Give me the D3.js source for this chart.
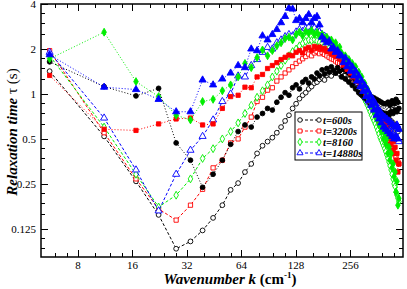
<!DOCTYPE html>
<html>
<head>
    <title>relaxation time</title>
    <script src="https://d3js.org/d3.v7.min.js"></script>
    <style>
        body { margin: 0; background: #fff; }
        text { font-family: "Liberation Serif", "Times New Roman", serif; }
        .tick-label { font-size: 11px; }
        .axis-title { font-size: 15px; font-weight: bold; font-style: italic; }
        .legend-text { font-size: 10.5px; font-weight: bold; font-style: italic; }
    </style>
</head>
<body>
<script>

    // wavenumbers (cm^-1)
    var wavenumbers = [5.58, 11.16, 16.74, 22.32, 27.9, 33.48, 39.06, 44.64, 50.22, 55.8,
        61.38, 66.96, 72.54, 78.12, 83.7, 89.28, 94.86, 100.44, 106.02, 111.6,
        117.18, 122.76, 128.34, 133.92, 139.5, 145.08, 150.66, 156.24, 161.82, 167.4,
        172.98, 178.56, 184.14, 189.72, 195.3, 200.88, 206.46, 212.04, 217.62, 223.2,
        228.78, 234.36, 239.94, 245.52, 251.1, 256.68, 262.26, 267.84, 273.42, 279,
        284.58, 290.16, 295.74, 301.32, 306.9, 312.48, 318.06, 323.64, 329.22, 334.8,
        340.38, 345.96, 351.54, 357.12, 362.7, 368.28, 373.86, 379.44, 385.02, 390.6,
        396.18, 401.76, 407.34, 412.92, 418.5, 424.08, 429.66, 435.24, 440.82, 446.4,
        451.98, 457.56, 463.14, 468.72, 474.3];

    // relaxation times (s), open symbols / dashed lines
    var tau600Open = [1.42, 0.52, 0.26, 0.155, 0.092, 0.103, 0.122, 0.148, 0.18, 0.228,
        0.253, 0.30, 0.34, 0.40, 0.45, 0.48, 0.51, 0.55, 0.60, 0.66,
        0.72, 0.80, 0.86, 0.93, 0.98, 1.02, 1.08, 1.12, 1.18, 1.20,
        1.25, 1.28, 1.24, 1.33, 1.36, 1.32, 1.40, 1.38, 1.42, 1.36,
        1.40, 1.30, 1.33, 1.25, 1.28, 1.20, 1.22, 1.15, 1.12, 1.08,
        1.05, 1.00, 1.02, 0.96, 0.94, 0.92, 0.88, 0.90, 0.85, 0.84,
        0.82, 0.80, 0.82, 0.78, 0.76, 0.78, 0.74, 0.72, 0.75, 0.70,
        0.72, 0.68, 0.70, 0.66, 0.68, 0.64, 0.66, 0.62, 0.64, 0.60,
        0.62, 0.58, 0.60, 0.56, 0.58];
    var tau3200Open = [1.95, 0.55, 0.27, 0.17, 0.143, 0.18, 0.23, 0.32, 0.36, 0.47,
        0.50, 0.60, 0.70, 0.89, 0.95, 1.06, 1.10, 1.22, 1.30, 1.38,
        1.45, 1.52, 1.60, 1.66, 1.72, 1.78, 1.85, 1.80, 1.88, 1.92,
        1.86, 1.90, 1.84, 1.80, 1.76, 1.72, 1.70, 1.66, 1.62, 1.60,
        1.56, 1.52, 1.48, 1.44, 1.40, 1.35, 1.30, 1.26, 1.22, 1.18,
        1.14, 1.10, 1.06, 1.02, 0.98, 0.95, 0.92, 0.88, 0.85, 0.82,
        0.79, 0.76, 0.73, 0.70, 0.68, 0.66, 0.64, 0.62, 0.60, 0.58,
        0.56, 0.54, 0.52, 0.50, 0.48, 0.46, 0.44, 0.43, 0.42, 0.40,
        0.39, 0.38, 0.36, 0.35, 0.34];
    var tau8160Open = [1.80, 0.60, 0.29, 0.175, 0.21, 0.27, 0.37, 0.43, 0.50, 0.56,
        0.64, 0.74, 0.84, 0.95, 1.05, 1.15, 1.30, 1.42, 1.55, 1.68,
        1.80, 1.92, 2.00, 2.10, 2.18, 2.25, 2.30, 2.28, 2.32, 2.26,
        2.22, 2.18, 2.12, 2.08, 2.02, 1.98, 1.94, 1.88, 1.84, 1.80,
        1.75, 1.68, 1.62, 1.55, 1.48, 1.42, 1.36, 1.30, 1.24, 1.18,
        1.12, 1.07, 1.02, 0.97, 0.92, 0.88, 0.84, 0.80, 0.76, 0.72,
        0.69, 0.66, 0.63, 0.60, 0.57, 0.54, 0.51, 0.49, 0.47, 0.45,
        0.43, 0.41, 0.39, 0.37, 0.35, 0.33, 0.31, 0.29, 0.27, 0.25,
        0.24, 0.22, 0.21, 0.20, 0.19];
    var tau14880Open = [1.90, 0.69, 0.31, 0.165, 0.29, 0.42, 0.52, 0.67, 0.89, 1.00,
        1.32, 1.30, 1.55, 1.70, 1.90, 2.05, 2.00, 2.20, 2.30, 2.42,
        2.50, 2.45, 2.60, 2.70, 2.62, 2.75, 2.80, 2.70, 2.76, 2.65,
        2.60, 2.50, 2.44, 2.36, 2.28, 2.20, 2.12, 2.04, 1.96, 1.88,
        1.80, 1.74, 1.66, 1.60, 1.52, 1.46, 1.40, 1.34, 1.28, 1.22,
        1.17, 1.12, 1.08, 1.04, 1.00, 0.96, 0.93, 0.90, 0.87, 0.84,
        0.82, 0.80, 0.77, 0.75, 0.73, 0.71, 0.69, 0.67, 0.65, 0.64,
        0.62, 0.61, 0.60, 0.58, 0.57, 0.56, 0.55, 0.54, 0.53, 0.52,
        0.51, 0.50, 0.50, 0.49, 0.48];

    // relaxation times (s), filled symbols / dotted lines
    var tau600Fill = [1.64, 1.12, 0.97, 1.09, 0.47, 0.36, 0.237, 0.29, 0.36, 0.46,
        0.56, 0.62, 0.60, 0.70, 0.74, 0.80, 0.78, 0.88, 0.95, 1.02,
        0.98, 1.10, 1.15, 1.08, 1.20, 1.25, 1.18, 1.30, 1.26, 1.38,
        1.32, 1.45, 1.36, 1.48, 1.40, 1.52, 1.44, 1.38, 1.50, 1.42,
        1.30, 1.46, 1.26, 1.40, 1.20, 1.34, 1.14, 1.28, 1.08, 1.22,
        1.02, 1.14, 0.98, 1.08, 0.94, 1.04, 0.90, 1.00, 0.86, 0.96,
        0.84, 0.94, 0.80, 0.92, 0.78, 0.90, 0.76, 0.88, 0.74, 0.86,
        0.72, 0.86, 0.74, 0.88, 0.72, 0.84, 0.76, 0.90, 0.74, 0.86,
        0.78, 0.92, 0.76, 0.88, 0.80];
    var tau3200Fill = [1.33, 0.58, 0.57, 0.63, 0.68, 0.69, 0.62, 0.63, 0.80, 0.96,
        0.98, 1.11, 1.10, 1.30, 1.35, 1.48, 1.55, 1.62, 1.70, 1.76,
        1.82, 1.80, 1.90, 1.95, 1.88, 2.00, 2.05, 1.96, 2.08, 2.02,
        2.06, 1.98, 2.02, 1.92, 1.95, 1.85, 1.88, 1.78, 1.82, 1.72,
        1.68, 1.56, 1.62, 1.46, 1.52, 1.38, 1.44, 1.30, 1.36, 1.22,
        1.28, 1.14, 1.20, 1.06, 1.12, 0.98, 1.04, 0.90, 0.96, 0.84,
        0.90, 0.78, 0.84, 0.72, 0.78, 0.66, 0.72, 0.62, 0.68, 0.58,
        0.64, 0.54, 0.60, 0.50, 0.55, 0.46, 0.52, 0.42, 0.48, 0.40,
        0.44, 0.36, 0.40, 0.30, 0.34];
    var tau8160Fill = [1.72, 2.59, 1.21, 0.96, 0.72, 0.67, 0.89, 0.92, 1.05, 1.15,
        1.30, 1.60, 1.50, 1.75, 1.97, 1.80, 1.95, 2.10, 2.20, 2.35,
        2.40, 2.30, 2.50, 2.60, 2.45, 2.62, 2.55, 2.66, 2.50, 2.58,
        2.45, 2.50, 2.36, 2.40, 2.25, 2.30, 2.16, 2.20, 2.02, 2.06,
        1.88, 1.74, 1.80, 1.62, 1.70, 1.52, 1.60, 1.44, 1.52, 1.34,
        1.40, 1.24, 1.30, 1.12, 1.18, 1.02, 1.08, 0.92, 0.98, 0.84,
        0.90, 0.76, 0.80, 0.68, 0.74, 0.62, 0.66, 0.56, 0.60, 0.50,
        0.54, 0.46, 0.50, 0.40, 0.44, 0.36, 0.40, 0.32, 0.34, 0.28,
        0.30, 0.22, 0.26, 0.18, 0.20];
    var tau14880Fill = [1.83, 1.11, 1.07, 0.92, 0.76, 0.76, 1.24, 1.15, 1.26, 1.38,
        1.55, 1.50, 2.00, 1.95, 2.45, 2.30, 2.50, 2.70, 3.00, 3.30,
        3.75, 3.70, 3.10, 3.20, 3.00, 3.20, 3.40, 3.00, 3.20, 3.30,
        2.90, 2.40, 2.30, 2.20, 2.25, 2.00, 2.05, 1.90, 1.95, 1.80,
        1.80, 1.62, 1.74, 1.52, 1.62, 1.42, 1.52, 1.32, 1.42, 1.22,
        1.32, 1.12, 1.22, 1.04, 1.14, 0.96, 1.06, 0.90, 0.98, 0.84,
        0.92, 0.78, 0.86, 0.72, 0.80, 0.68, 0.76, 0.64, 0.72, 0.60,
        0.70, 0.58, 0.68, 0.56, 0.66, 0.54, 0.64, 0.52, 0.62, 0.50,
        0.60, 0.52, 0.62, 0.50, 0.58];

    var legendLabels = ["t=600s", "t=3200s", "t=8160", "t=14880s"];
    var seriesColors = ["#000000", "#ff0000", "#00ee00", "#0000ff"];
    var seriesShapes = [d3.symbolCircle, d3.symbolSquare, d3.symbolDiamond, d3.symbolTriangle];
    var openSets = [tau600Open, tau3200Open, tau8160Open, tau14880Open];
    var fillSets = [tau600Fill, tau3200Fill, tau8160Fill, tau14880Fill];

    var xTicks = [8, 16, 32, 64, 128, 256];
    var yTicks = [0.125, 0.25, 0.5, 1, 2, 4];

    var width = 407,
        height = 289,
        padLeft = 41,
        padRight = 403,
        padTop = 4,
        padBottom = 257;

    var svg = d3.select("body").append("svg")
        .attr("width", width)
        .attr("height", height);

    var x = d3.scaleLog().base(2).domain([5, 500]).range([padLeft, padRight]);
    var y = d3.scaleLog().base(2).domain([0.081, 4]).range([padBottom, padTop]);

    // minor ticks: 1.25, 1.5, 1.75 of every octave
    function minors(scale) {
        var out = [];
        var d = scale.domain();
        for (var p = -6; p < 10; p++) {
            [1.25, 1.5, 1.75].forEach(function (m) {
                var v = m * Math.pow(2, p);
                if (v > d[0] && v < d[1]) out.push(v);
            });
        }
        return out;
    }

    var axes = svg.append("g").attr("stroke", "#000").attr("stroke-width", 1);

    // x ticks, inward on bottom and top
    xTicks.forEach(function (t) {
        var px = Math.round(x(t)) + 0.5;
        axes.append("line").attr("x1", px).attr("x2", px).attr("y1", padBottom).attr("y2", padBottom - 7);
        axes.append("line").attr("x1", px).attr("x2", px).attr("y1", padTop).attr("y2", padTop + 7);
    });
    minors(x).forEach(function (t) {
        var px = Math.round(x(t)) + 0.5;
        axes.append("line").attr("x1", px).attr("x2", px).attr("y1", padBottom).attr("y2", padBottom - 4);
        axes.append("line").attr("x1", px).attr("x2", px).attr("y1", padTop).attr("y2", padTop + 4);
    });
    // y ticks, inward on left and right
    yTicks.forEach(function (t) {
        var py = Math.round(y(t)) + 0.5;
        axes.append("line").attr("x1", padLeft).attr("x2", padLeft + 7).attr("y1", py).attr("y2", py);
        axes.append("line").attr("x1", padRight).attr("x2", padRight - 7).attr("y1", py).attr("y2", py);
    });
    minors(y).forEach(function (t) {
        var py = Math.round(y(t)) + 0.5;
        axes.append("line").attr("x1", padLeft).attr("x2", padLeft + 4).attr("y1", py).attr("y2", py);
        axes.append("line").attr("x1", padRight).attr("x2", padRight - 4).attr("y1", py).attr("y2", py);
    });

    svg.selectAll(".x-label")
        .data(xTicks).enter().append("text")
        .attr("class", "tick-label")
        .attr("text-anchor", "middle")
        .attr("x", function (d) { return x(d); })
        .attr("y", padBottom + 12)
        .text(function (d) { return d; });

    svg.selectAll(".y-label")
        .data(yTicks).enter().append("text")
        .attr("class", "tick-label")
        .attr("text-anchor", "end")
        .attr("x", padLeft - 5)
        .attr("y", function (d) { return Math.max(y(d) + 4, 8); })
        .text(function (d) { return d; });

    // series
    var plot = svg.append("g");

    function drawSeries(values, i, filled) {
        var pts = values.map(function (v, j) { return [wavenumbers[j], v]; });
        var line = d3.line()
            .x(function (d) { return x(d[0]); })
            .y(function (d) { return y(d[1]); });
        plot.append("path")
            .attr("d", line(pts))
            .attr("fill", "none")
            .attr("stroke", seriesColors[i])
            .attr("stroke-width", 1)
            .attr("stroke-dasharray", filled ? "1,2" : "3,2");
        var sym = d3.symbol().type(seriesShapes[i]).size(i === 3 ? 22 : 18);
        plot.selectAll(null)
            .data(pts).enter().append("path")
            .attr("d", sym)
            .attr("transform", function (d) { return "translate(" + x(d[0]) + "," + y(d[1]) + ")"; })
            .attr("fill", filled ? seriesColors[i] : "#fff")
            .attr("stroke", seriesColors[i])
            .attr("stroke-width", 0.9);
    }

    openSets.forEach(function (s, i) { drawSeries(s, i, false); });
    fillSets.forEach(function (s, i) { drawSeries(s, i, true); });

    // frame
    svg.append("rect")
        .attr("x", padLeft).attr("y", padTop)
        .attr("width", padRight - padLeft).attr("height", padBottom - padTop)
        .attr("fill", "none").attr("stroke", "#000").attr("stroke-width", 1.5);

    // legend
    var legend = svg.append("g").attr("transform", "translate(295,112)");
    legend.append("rect")
        .attr("width", 67).attr("height", 48)
        .attr("fill", "#fff").attr("stroke", "#000").attr("stroke-width", 1);
    legendLabels.forEach(function (lab, i) {
        var ly = 8 + i * 11;
        legend.append("line")
            .attr("x1", 5).attr("x2", 24).attr("y1", ly).attr("y2", ly)
            .attr("stroke", seriesColors[i]).attr("stroke-dasharray", "3,2");
        [5, 24].forEach(function (lx) {
            legend.append("path")
                .attr("d", d3.symbol().type(seriesShapes[i]).size(16))
                .attr("transform", "translate(" + lx + "," + ly + ")")
                .attr("fill", "#fff").attr("stroke", seriesColors[i]).attr("stroke-width", 0.9);
        });
        legend.append("text")
            .attr("class", "legend-text")
            .attr("x", 28).attr("y", ly + 3.5)
            .text(lab);
    });

    // axis titles
    var xt = svg.append("text")
        .attr("x", 230).attr("y", 284)
        .attr("text-anchor", "middle");
    xt.append("tspan").attr("class", "axis-title").text("Wavenumber  k  ");
    xt.append("tspan").attr("font-size", "15px").attr("font-weight", "bold").text("(cm");
    xt.append("tspan").attr("font-size", "9px").attr("font-weight", "bold").attr("dy", -6).text("-1");
    xt.append("tspan").attr("font-size", "15px").attr("font-weight", "bold").attr("dy", 6).text(")");

    var yt = svg.append("text")
        .attr("transform", "translate(17,132) rotate(-90)")
        .attr("text-anchor", "middle");
    yt.append("tspan").attr("class", "axis-title").text("Relaxation time  ");
    yt.append("tspan").attr("font-size", "15px").text("\u03c4  (s)");

</script>
</body>
</html>
